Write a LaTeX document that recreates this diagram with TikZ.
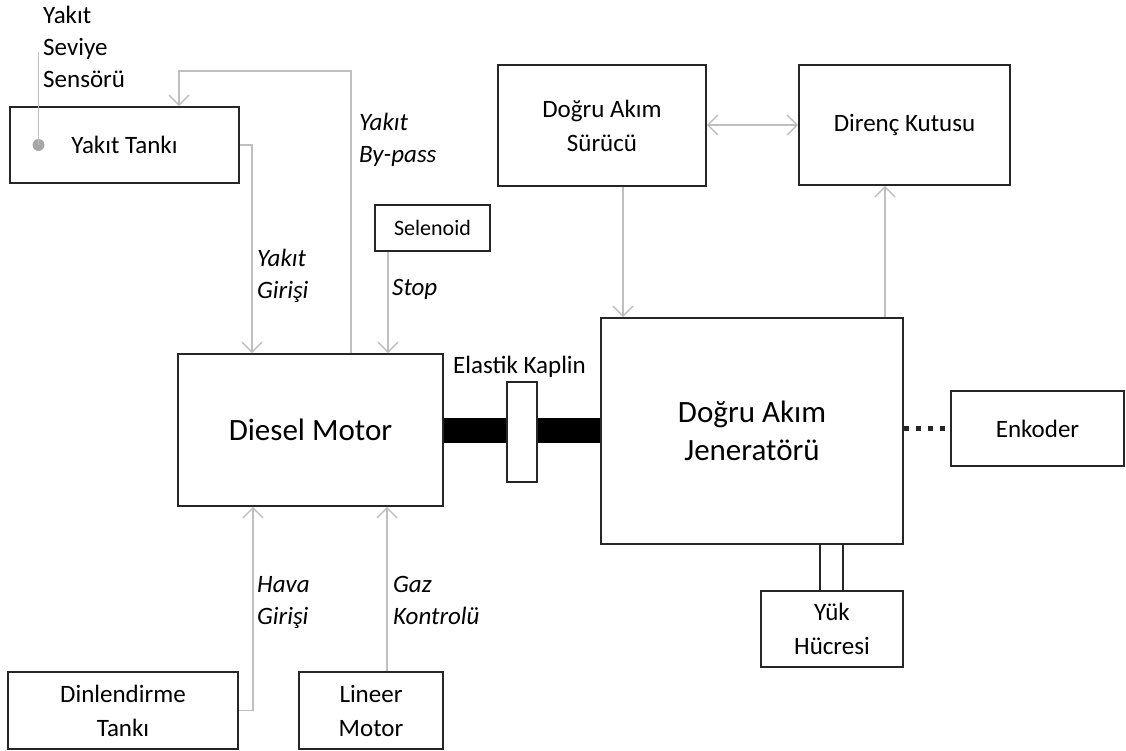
\documentclass[tikz,border=0pt]{standalone}
\usepackage{fontspec}
\setmainfont{Carlito}
\usetikzlibrary{arrows.meta,positioning}
\definecolor{genEdge}{HTML}{262626}
\definecolor{genLine}{HTML}{BFBFBF}
\definecolor{genDot}{HTML}{A6A6A6}
\tikzset{
  >={Straight Barb[length=10pt,width=20pt,line width=1.5pt]},
  box/.style={draw=genEdge, line width=1.6pt, fill=white, align=center,
              inner sep=2pt, font=\fontsize{25}{34}\selectfont},
  bigbox/.style={box, font=\fontsize{31}{38}\selectfont},
  lbl/.style={font=\fontsize{25}{32}\selectfont\itshape, align=left,
              anchor=base west, inner sep=0pt},
  plain/.style={font=\fontsize{25}{32}\selectfont, align=left,
              anchor=base west, inner sep=0pt},
  flow/.style={->, draw=genLine, line width=1.5pt},
  wire/.style={draw=genLine, line width=1.5pt},
  shaft/.style={draw=black, line width=25pt},
  link/.style={draw=genEdge, line width=1.6pt},
}

\begin{document}
\begin{tikzpicture}[x=1pt,y=-1pt]
    \useasboundingbox (0,0) rectangle (1126,751);
    % engine side
    \node[box,minimum width=229,minimum height=76] (tank) at (124.5,145){Yak\i t Tank\i};
    \node[box,minimum width=115,minimum height=46,font=\fontsize{22}{26}\selectfont] (selenoid) at (432.5,228){Selenoid};
    \node[bigbox,minimum width=265,minimum height=152] (diesel) at (310.5,430){Diesel Motor};
    \node[box,minimum width=230,minimum height=77] (dinlen) at (123,710.5){Dinlendirme\\Tank\i};
    \node[box,minimum width=144,minimum height=77] (lineer) at (371,710.5){Lineer\\Motor};
    % generator side
    \node[box,minimum width=208,minimum height=121] (surucu) at (602,125.5){Do\u{g}ru Ak\i m\\S\"ur\"uc\"u};
    \node[box,minimum width=211,minimum height=120] (direnc) at (904.5,125){Diren\c{c} Kutusu};
    \node[bigbox,minimum width=302,minimum height=226] (gen) at (752,431){Do\u{g}ru Ak\i m\\Jenerat\"or\"u};
    \node[box,minimum width=173,minimum height=75] (enkoder) at (1037.5,428.5){Enkoder};
    \node[box,minimum width=142,minimum height=76] (yuk) at (832,629){Y\"uk\\H\"ucresi};
    % shaft and coupling
    \node[box,minimum width=30,minimum height=100,inner sep=0pt] (kaplin) at (522,432){};
    \draw[shaft] (diesel.east) -- (diesel.east -| kaplin.west);
    \draw[shaft] (kaplin.east |- diesel.east) -- (gen.west |- diesel.east);
    \node[plain] (kaplinlbl) at (453,373){Elastik Kaplin};
    % level sensor
    \node[circle,fill=genDot,inner sep=0pt,minimum size=12pt] (sdot) at (38.5,145){};
    \coordinate (stip) at (38.5,52);
    \draw[wire] (sdot.center) -- (stip);
    \node[plain] (senslbl) at (43,88){Yak\i t\\Seviye\\Sens\"or\"u};
    % fuel lines
    \coordinate (bp) at (179,71);
    \draw[flow] ([xshift=40.5pt]diesel.north) |- (bp) -- (bp |- tank.north);
    \draw[flow] (tank.east) -| ([xshift=-58.5pt]diesel.north);
    \draw[flow] ([xshift=-44.5pt]selenoid.south) -- ([xshift=-44.5pt]selenoid.south |- diesel.north);
    \draw[flow] (dinlen.east) -| ([xshift=-57.5pt]diesel.south);
    \draw[flow] ([xshift=16pt]lineer.north) -- ([xshift=16pt]lineer.north |- diesel.south);
    \node[lbl] (girislbl) at (257,298){Yak\i t\\Giri\c{s}i};
    \node[lbl] (bypasslbl) at (359,163){Yak\i t\\By-pass};
    \node[lbl] (stoplbl) at (392,295){Stop};
    \node[lbl] (havalbl) at (257,624){Hava\\Giri\c{s}i};
    \node[lbl] (gazlbl) at (393,624){Gaz\\Kontrol\"u};
    % drive, load and encoder
    \draw[flow,<->] (surucu.east |- direnc.west) -- (direnc.west);
    \draw[flow] ([xshift=21pt]surucu.south) -- ([xshift=21pt]surucu.south |- gen.north);
    \draw[flow] ([xshift=-19.5pt]direnc.south |- gen.north) -- ([xshift=-19.5pt]direnc.south);
    \draw[link,line width=5pt,dash pattern=on 5pt off 7pt] (gen.east |- enkoder.west) -- (enkoder.west);
    \draw[link] ([xshift=-12pt]yuk.north) -- ([xshift=-12pt]yuk.north |- gen.south);
    \draw[link] ([xshift=11pt]yuk.north) -- ([xshift=11pt]yuk.north |- gen.south);
  \end{tikzpicture}
\end{document}
